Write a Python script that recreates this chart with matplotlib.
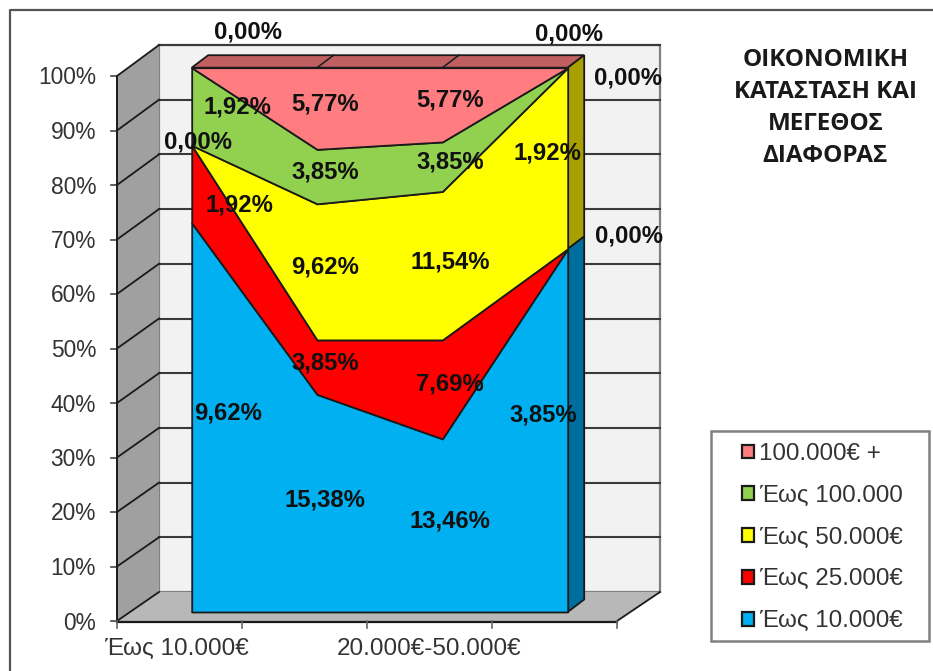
from matplotlib import pyplot as plt
from matplotlib.patches import Patch, Polygon, Rectangle

plt.rcParams["font.family"] = ["Liberation Sans", "DejaVu Sans"]

categories = ["Έως 10.000€", "", "20.000€-50.000€", ""]
upto_10k = [9.62, 15.38, 13.46, 3.85]
upto_25k = [1.92, 3.85, 7.69, 0.00]
upto_50k = [0.00, 9.62, 11.54, 1.92]
upto_100k = [1.92, 3.85, 3.85, 0.00]
over_100k = [0.00, 5.77, 5.77, 0.00]
series_names = ["Έως 10.000€", "Έως 25.000€", "Έως 50.000€", "Έως 100.000", "100.000€ +"]
y_ticks = [0, 10, 20, 30, 40, 50, 60, 70, 80, 90, 100]
title_text = "ΟΙΚΟΝΟΜΙΚΗ\nΚΑΤΑΣΤΑΣΗ ΚΑΙ\nΜΕΓΕΘΟΣ\nΔΙΑΦΟΡΑΣ"

series = [upto_10k, upto_25k, upto_50k, upto_100k, over_100k]
colors = ["#00B0F0", "#FF0000", "#FFFF00", "#92D050", "#FF7C80"]
side_colors = ["#006E9C", "#A00000", "#A8A000", "#5C8232", "#BF5F62"]
LINE = "#1a1a1a"

W, H = 933, 671
fig = plt.figure(figsize=(W / 100, H / 100), dpi=100)

# overlay in pixel coordinates for the box of the fake 3d chart
bg = fig.add_axes([0, 0, 1, 1])
bg.set_xlim(0, W)
bg.set_ylim(H, 0)
bg.axis("off")

bg.plot([10, 10, W], [H, 10, 10], color="#555555", lw=1.6)

bg.add_patch(Polygon([(159, 45), (660, 45), (660, 592), (159, 592)], fc="#F2F2F2", ec="#808080", lw=1.6))
bg.add_patch(Polygon([(117, 76), (159, 45), (159, 592), (117, 621)], fc="#A0A0A0", ec="none"))
bg.add_patch(Polygon([(117, 621), (159, 592), (660, 592), (617, 621)], fc="#B8B8B8", ec="none"))

for t in y_ticks:
    yb = 592 - t * 5.47
    yf = 621 - t * 5.45
    if t > 0:
        bg.plot([159, 660], [yb, yb], color="#3a3a3a", lw=1.5)
    bg.plot([117, 159], [yf, yb], color=LINE, lw=1.3)
    bg.plot([111, 117], [yf, yf], color="#444444", lw=1.2)
    bg.text(96, yf + 2, f"{t}%", ha="right", va="center", fontsize=16.4, color="#333333")

bg.plot([117, 117], [76, 621], color=LINE, lw=1.4)
bg.plot([117, 617], [621.5, 621.5], color=LINE, lw=1.6)
bg.plot([617, 660], [621, 592], color=LINE, lw=1.3)
for i in range(5):
    x = 117 + i * 125
    bg.plot([x, x], [621, 628], color="#666666", lw=1.2)
for i, c in enumerate(categories):
    if c:
        bg.text(176.5 + i * 126.5, 649, c, ha="center", va="center", fontsize=17.5, color="#333333")

# the areas go on an axes whose frame is the front plane of the stack
ax = fig.add_axes([191.7 / W, (H - 612) / H, 376 / W, 544.3 / H])
ax.set_xlim(0, 3)
ax.set_ylim(0, 100)
ax.axis("off")
ax.patch.set_alpha(0)

xs = list(range(len(categories)))
totals = [sum(s[i] for s in series) for i in xs]
shares = [[s[i] / totals[i] * 100 for i in xs] for s in series]
dx, dy = 16.5 / (376 / 3), 12.5 / 5.443

# top and right side faces
ax.add_patch(Polygon([(0, 100), (3, 100), (3 + dx, 100 + dy), (dx, 100 + dy)], fc=side_colors[4], ec=LINE, lw=1.3, clip_on=False))
for i in xs[1:-1]:
    ax.plot([i, i + dx], [100, 100 + dy], color=LINE, lw=1.1, clip_on=False)
low = 0
for s, col in zip(shares, side_colors):
    high = low + s[-1]
    if s[-1] > 0:
        ax.add_patch(Polygon([(3, low), (3, high), (3 + dx, high + dy), (3 + dx, low + dy)], fc=col, ec=LINE, lw=1.3, clip_on=False))
    low = high

ax.stackplot(xs, shares, colors=colors, edgecolor=LINE, linewidth=1.3, clip_on=False)

# label centres in pixels, one row per series, same order as the data
label_pos = [
    [(228, 412), (325, 499), (450, 520), (543, 414)],
    [(239, 204), (325, 362), (450, 383), (629, 235)],
    [(198, 141), (325, 266), (450, 261), (547, 152)],
    [(237, 106), (325, 171), (450, 161), (628, 77)],
    [(248, 31), (325, 103), (450, 99), (569, 33)],
]
top = fig.add_axes([0, 0, 1, 1])
top.set_xlim(0, W)
top.set_ylim(H, 0)
top.axis("off")
top.patch.set_alpha(0)
for s, row in zip(series, label_pos):
    for v, (px, py) in zip(s, row):
        top.text(px, py + 1, f"{v:.2f}%".replace(".", ","), ha="center", va="center",
                 fontsize=17.2, fontweight="bold", color="#111111")

top.text(825.5, 108, title_text, ha="center", va="center", fontsize=17.5, fontweight="bold",
         family="Open Sans", color="#1a1a1a", linespacing=1.46)

# legend frame is drawn apart so that its box size can match exactly
top.add_patch(Rectangle((711, 431), 218, 210, fc="white", ec="#808080", lw=1.8))
handles = [Patch(fc=c, ec=LINE, lw=1.6, label=n) for c, n in zip(colors, series_names)]
leg = top.legend(handles=handles[::-1], loc="upper left",
                 bbox_to_anchor=(742 / W, 1 - 443 / H), bbox_transform=fig.transFigure,
                 fontsize=17.4, frameon=False,
                 labelcolor="#333333", handlelength=0.5, handleheight=0.5, handletextpad=0.2,
                 labelspacing=0.82, borderpad=0, borderaxespad=0)

fig.savefig("out.png", dpi=100)
